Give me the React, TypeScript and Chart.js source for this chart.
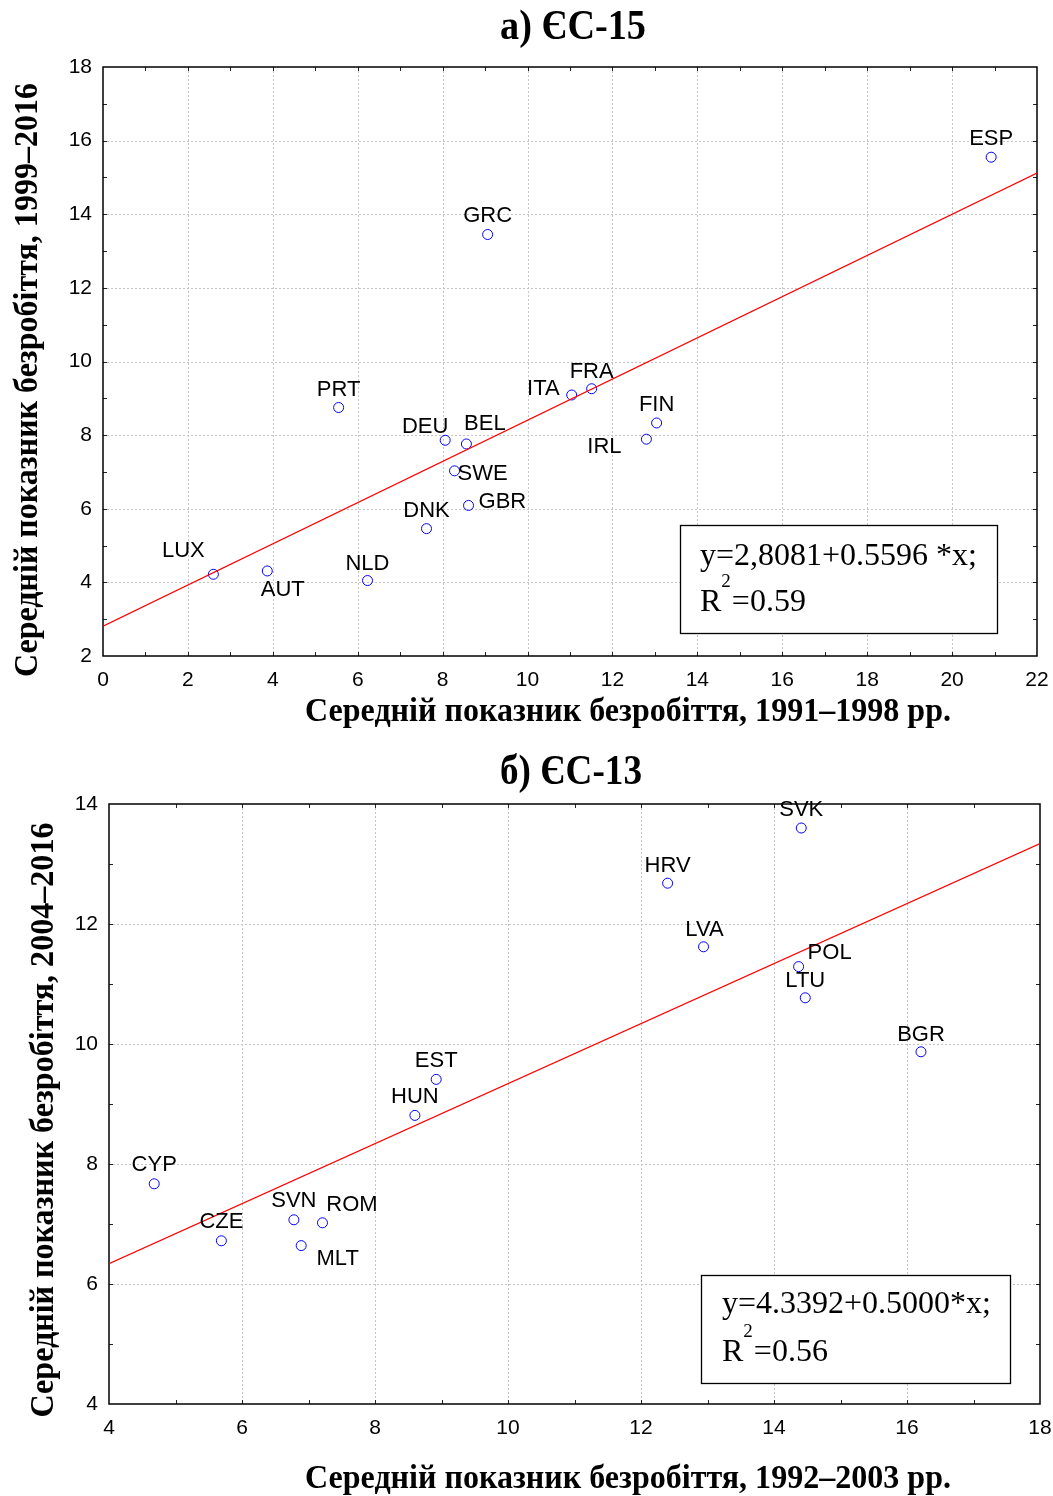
import React, { useEffect, useRef } from "react";
import { Chart, registerables } from "chart.js";

Chart.register(...registerables);

// ---------- Data: panel a) EU-15 ----------
const eu15Countries = ["GRC", "ESP", "PRT", "ITA", "FRA", "DEU", "BEL", "SWE", "GBR", "DNK", "FIN", "IRL", "LUX", "AUT", "NLD"];
const eu15X = [9.06, 20.92, 5.55, 11.04, 11.51, 8.06, 8.56, 8.28, 8.61, 7.62, 13.04, 12.8, 2.6, 3.87, 6.23];
const eu15Y = [13.45, 15.55, 8.75, 9.09, 9.26, 7.86, 7.76, 7.03, 6.09, 5.46, 8.33, 7.89, 4.22, 4.31, 4.05];
const eu15Intercept = 2.8081;
const eu15Slope = 0.5596;
const eu15EqLine = "y=2,8081+0.5596 *x;";
const eu15R2 = "=0.59";

// ---------- Data: panel б) EU-13 ----------
const eu13Countries = ["SVK", "HRV", "LVA", "POL", "LTU", "BGR", "EST", "HUN", "CYP", "CZE", "SVN", "ROM", "MLT"];
const eu13X = [14.41, 12.4, 12.94, 14.37, 14.47, 16.21, 8.92, 8.6, 4.68, 5.69, 6.78, 7.21, 6.89];
const eu13Y = [13.6, 12.68, 11.62, 11.29, 10.77, 9.87, 9.41, 8.81, 7.67, 6.72, 7.07, 7.02, 6.64];
const eu13Intercept = 4.3392;
const eu13Slope = 0.5;
const eu13EqLine = "y=4.3392+0.5000*x;";
const eu13R2 = "=0.56";

// ---------- Texts ----------
const title1 = "а) ЄС-15";
const title2 = "б) ЄС-13";
const xTitle1 = "Середній показник безробіття, 1991–1998 рр.";
const yTitle1 = "Середній показник безробіття, 1999–2016";
const xTitle2 = "Середній показник безробіття, 1992–2003 рр.";
const yTitle2 = "Середній показник безробіття, 2004–2016";

// ---------- Label placement (style only): [align, dx, dy] ----------
type Place = [CanvasTextAlign, number, number];
const eu15LabelPlace: Record<string, Place> = {
  GRC: ["center", 0, -12], ESP: ["center", 0, -12], PRT: ["center", 0, -12],
  ITA: ["right", -12, 0], FRA: ["center", 0, -11], DEU: ["center", -20, -7],
  BEL: ["center", 18.5, -14], SWE: ["left", 3, 9], GBR: ["left", 10, 3],
  DNK: ["center", 0, -12], FIN: ["center", 0, -12], IRL: ["center", -42, 14],
  LUX: ["center", -30, -17], AUT: ["center", 15.5, 25], NLD: ["center", 0, -11],
};
const eu13LabelPlace: Record<string, Place> = {
  SVK: ["center", 0, -12], HRV: ["center", 0, -11], LVA: ["center", 1, -11],
  POL: ["center", 31, -8], LTU: ["center", 0, -11], BGR: ["center", 0, -11],
  EST: ["center", 0, -12], HUN: ["center", 0, -12], CYP: ["center", 0, -13],
  CZE: ["center", 0, -13], SVN: ["center", 0, -13], ROM: ["center", 29.5, -12],
  MLT: ["center", 36.5, 19],
};

const SANS = "'Liberation Sans', Arial, sans-serif";
const SERIF = "'Liberation Serif', 'Times New Roman', serif";

interface PanelCfg {
  height: number;
  plotH: number;
  pad: { top: number; right: number };
  yWidth: number;
  xMin: number; xMax: number; yMin: number; yMax: number;
  countries: string[]; xs: number[]; ys: number[];
  intercept: number; slope: number;
  place: Record<string, Place>;
  title: string; titleCx: number; titleBase: number; titleW: number;
  xTitle: string; xTitleCx: number; xTitleBase: number; xTitleW: number;
  yTitle: string; yTitleBaseX: number; yTitleCy: number; yTitleW: number;
  box: [number, number, number, number];
  eq: string; r2: string; textX: number; base1: number; base2: number; supBase: number;
}

function fitText(ctx: CanvasRenderingContext2D, text: string, x: number, y: number, width: number, font: string, rotate = false) {
  ctx.save();
  ctx.font = font;
  const w = ctx.measureText(text).width;
  const s = width / w;
  ctx.translate(x, y);
  if (rotate) ctx.rotate(-Math.PI / 2);
  ctx.scale(s, 1);
  ctx.textAlign = "center";
  ctx.textBaseline = "alphabetic";
  ctx.fillStyle = "#000";
  ctx.fillText(text, 0, 0);
  ctx.restore();
}

function makePlugin(cfg: PanelCfg) {
  return {
    id: "decor",
    beforeDatasetsDraw(chart: any) {
      const { ctx, chartArea: a, scales } = chart;
      const xs = scales.x, ys = scales.y;
      ctx.save();
      // dotted grid
      ctx.strokeStyle = "#c4c4c4";
      ctx.lineWidth = 1;
      ctx.setLineDash([2, 2]);
      xs.ticks.forEach((t: any) => {
        if (t.value <= cfg.xMin || t.value >= cfg.xMax) return;
        const p = Math.round(xs.getPixelForValue(t.value)) + 0.5;
        ctx.beginPath(); ctx.moveTo(p, a.top); ctx.lineTo(p, a.bottom); ctx.stroke();
      });
      ys.ticks.forEach((t: any) => {
        if (t.value <= cfg.yMin || t.value >= cfg.yMax) return;
        const p = Math.round(ys.getPixelForValue(t.value)) + 0.5;
        ctx.beginPath(); ctx.moveTo(a.left, p); ctx.lineTo(a.right, p); ctx.stroke();
      });
      ctx.setLineDash([]);
      // inward tick marks every unit
      ctx.strokeStyle = "#222";
      ctx.lineWidth = 1;
      const tl = 4;
      for (let v = cfg.xMin + 1; v < cfg.xMax; v++) {
        const p = Math.round(xs.getPixelForValue(v)) + 0.5;
        ctx.beginPath(); ctx.moveTo(p, a.bottom); ctx.lineTo(p, a.bottom - tl); ctx.stroke();
        ctx.beginPath(); ctx.moveTo(p, a.top); ctx.lineTo(p, a.top + tl); ctx.stroke();
      }
      for (let v = cfg.yMin + 1; v < cfg.yMax; v++) {
        const p = Math.round(ys.getPixelForValue(v)) + 0.5;
        ctx.beginPath(); ctx.moveTo(a.left, p); ctx.lineTo(a.left + tl, p); ctx.stroke();
        ctx.beginPath(); ctx.moveTo(a.right, p); ctx.lineTo(a.right - tl, p); ctx.stroke();
      }
      // frame
      ctx.strokeStyle = "#000";
      ctx.lineWidth = 1.5;
      ctx.strokeRect(a.left, a.top, a.right - a.left, a.bottom - a.top);
      ctx.restore();
    },
    afterDatasetsDraw(chart: any) {
      const { ctx, scales } = chart;
      const xs = scales.x, ys = scales.y;
      ctx.save();
      ctx.font = `22px ${SANS}`;
      ctx.fillStyle = "#000";
      ctx.textBaseline = "alphabetic";
      cfg.countries.forEach((c, i) => {
        const [al, dx, dy] = cfg.place[c];
        const px = xs.getPixelForValue(cfg.xs[i]);
        const py = ys.getPixelForValue(cfg.ys[i]);
        ctx.textAlign = al;
        ctx.fillText(c, px + dx, py + dy);
      });
      // regression legend box
      const [x1, y1, x2, y2] = cfg.box;
      ctx.fillStyle = "#fff";
      ctx.fillRect(x1, y1, x2 - x1, y2 - y1);
      ctx.strokeStyle = "#000";
      ctx.lineWidth = 1.3;
      ctx.strokeRect(x1 + 0.5, y1 + 0.5, x2 - x1, y2 - y1);
      ctx.fillStyle = "#000";
      ctx.textAlign = "left";
      ctx.font = `32px ${SERIF}`;
      ctx.fillText(cfg.eq, cfg.textX, cfg.base1);
      ctx.fillText("R", cfg.textX, cfg.base2);
      const rw = ctx.measureText("R").width;
      ctx.font = `19px ${SERIF}`;
      ctx.fillText("2", cfg.textX + rw, cfg.supBase);
      const sw = ctx.measureText("2").width;
      ctx.font = `32px ${SERIF}`;
      ctx.fillText(cfg.r2, cfg.textX + rw + sw + 1, cfg.base2);
      ctx.restore();
    },
    afterDraw(chart: any) {
      const { ctx } = chart;
      fitText(ctx, cfg.title, cfg.titleCx, cfg.titleBase, cfg.titleW, `bold 42px ${SERIF}`);
      fitText(ctx, cfg.xTitle, cfg.xTitleCx, cfg.xTitleBase, cfg.xTitleW, `bold 33px ${SERIF}`);
      fitText(ctx, cfg.yTitle, cfg.yTitleBaseX, cfg.yTitleCy, cfg.yTitleW, `bold 33px ${SERIF}`, true);
    },
  };
}

function Panel({ cfg }: { cfg: PanelCfg }) {
  const ref = useRef<HTMLCanvasElement | null>(null);
  useEffect(() => {
    if (!ref.current) return;
    const points = cfg.xs.map((x, i) => ({ x, y: cfg.ys[i] }));
    const fit = [cfg.xMin, cfg.xMax].map((x) => ({ x, y: cfg.intercept + cfg.slope * x }));
    const tickFont = { family: SANS, size: 21 };
    const xAxisH = cfg.height - cfg.pad.top - cfg.plotH;
    const chart = new Chart(ref.current, {
      type: "scatter",
      data: {
        datasets: [
          {
            type: "line",
            data: fit,
            borderColor: "#ff0000",
            borderWidth: 1.2,
            pointRadius: 0,
            fill: false,
          } as any,
          {
            type: "scatter",
            data: points,
            pointStyle: "circle",
            pointRadius: 5,
            borderColor: "#0000ff",
            backgroundColor: "rgba(0,0,0,0)",
            borderWidth: 1,
          },
        ],
      },
      options: {
        animation: false,
        responsive: false,
        devicePixelRatio: 1,
        layout: { padding: { top: cfg.pad.top, right: cfg.pad.right, bottom: 0, left: 0 } },
        plugins: { legend: { display: false }, tooltip: { enabled: false }, title: { display: false } },
        scales: {
          x: {
            type: "linear",
            min: cfg.xMin,
            max: cfg.xMax,
            ticks: { stepSize: 2, font: tickFont, color: "#000", padding: 12 },
            grid: { display: false, drawTicks: false },
            border: { display: false },
            afterFit: (s: any) => { s.height = xAxisH; s.paddingLeft = 0; s.paddingRight = 0; },
          },
          y: {
            type: "linear",
            min: cfg.yMin,
            max: cfg.yMax,
            ticks: { stepSize: 2, font: tickFont, color: "#000", padding: 11 },
            grid: { display: false, drawTicks: false },
            border: { display: false },
            afterFit: (s: any) => { s.width = cfg.yWidth; s.paddingTop = 0; s.paddingBottom = 0; },
          },
        },
      },
      plugins: [makePlugin(cfg)],
    } as any);
    return () => chart.destroy();
  }, [cfg]);
  return <canvas ref={ref} width={1053} height={cfg.height} style={{ display: "block", width: 1053, height: cfg.height }} />;
}

const cfgA: PanelCfg = {
  height: 735,
  plotH: 589,
  pad: { top: 67, right: 16 },
  yWidth: 103,
  xMin: 0, xMax: 22, yMin: 2, yMax: 18,
  countries: eu15Countries, xs: eu15X, ys: eu15Y,
  intercept: eu15Intercept, slope: eu15Slope,
  place: eu15LabelPlace,
  title: title1, titleCx: 573, titleBase: 39, titleW: 146,
  xTitle: xTitle1, xTitleCx: 628, xTitleBase: 721, xTitleW: 646,
  yTitle: yTitle1, yTitleBaseX: 37, yTitleCy: 380, yTitleW: 594,
  box: [680, 525, 997, 633],
  eq: eu15EqLine, r2: eu15R2, textX: 700, base1: 565, base2: 611, supBase: 587,
};

const cfgB: PanelCfg = {
  height: 761,
  plotH: 600,
  pad: { top: 69, right: 13 },
  yWidth: 109,
  xMin: 4, xMax: 18, yMin: 4, yMax: 14,
  countries: eu13Countries, xs: eu13X, ys: eu13Y,
  intercept: eu13Intercept, slope: eu13Slope,
  place: eu13LabelPlace,
  title: title2, titleCx: 571, titleBase: 49, titleW: 142,
  xTitle: xTitle2, xTitleCx: 628, xTitleBase: 753, xTitleW: 646,
  yTitle: yTitle2, yTitleBaseX: 53, yTitleCy: 385, yTitleW: 595,
  box: [701, 540, 1010, 648],
  eq: eu13EqLine, r2: eu13R2, textX: 722, base1: 578, base2: 626, supBase: 602,
};

export default function App() {
  return (
    <div style={{ position: "absolute", left: 0, top: 0, width: 1053, height: 1496, background: "#fff" }}>
      <Panel cfg={cfgA} />
      <Panel cfg={cfgB} />
    </div>
  );
}
